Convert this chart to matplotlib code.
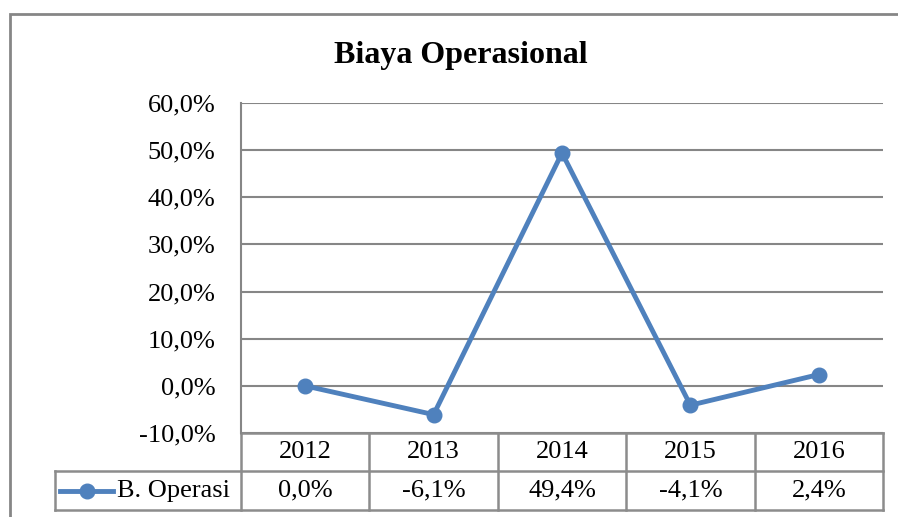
import matplotlib
matplotlib.use("Agg")
import matplotlib.pyplot as plt
from matplotlib.lines import Line2D
from matplotlib.patches import Rectangle

plt.rcParams['font.family'] = ['Liberation Serif', 'DejaVu Serif']

title = "Biaya Operasional"
years = ["2012", "2013", "2014", "2015", "2016"]
series_name = "B. Operasi"
values = [0.0, -6.1, 49.4, -4.1, 2.4]
yticks = [-10, 0, 10, 20, 30, 40, 50, 60]

blue = "#4F81BD"
grid_gray = "#868686"
fs = 19
fmt = lambda v: ("%.1f" % v).replace(".", ",") + "%"

W, H = 898, 517
fig = plt.figure(figsize=(W / 100, H / 100), dpi=100)

# plot area in pixels
left, right, top, bottom = 241, 883, 103, 433
ax = fig.add_axes([left / W, 1 - bottom / H, (right - left) / W, (bottom - top) / H])

x = list(range(len(years)))
ax.plot(x, values, '-o', color=blue, lw=3.5, ms=10.5, zorder=3, clip_on=False)
ax.set_xlim(-0.5, len(years) - 0.5)
ax.set_ylim(yticks[0], yticks[-1])
ax.set_yticks(yticks)
ax.set_yticklabels([fmt(v) for v in yticks], fontsize=fs)
ax.tick_params(axis='y', length=0, pad=18.5)
ax.set_xticks([])
for s in ['top', 'right', 'bottom']:
    ax.spines[s].set_visible(False)
ax.spines['left'].set_color(grid_gray)
ax.spines['left'].set_linewidth(1.5)
ax.yaxis.grid(True, color=grid_gray, lw=1.5)
ax.set_axisbelow(True)

fig.text(461 / W, 1 - 55 / H, title, ha='center', va='center',
         fontsize=23, fontweight='bold')

# data table below the plot, in axes coordinates
pw, ph = right - left, bottom - top
ax_x = lambda px: (px - left) / pw
ax_y = lambda py: (bottom - py) / ph
tline = dict(color="#8C8C8C", lw=1.8, transform=ax.transAxes, clip_on=False)

row1_top, row1_bot, row2_bot = 433, 471, 510
legend_left = 55
col_w = pw / len(years)

# horizontal lines
ax.add_line(Line2D([0, 1], [ax_y(row1_top)] * 2, **tline))
ax.add_line(Line2D([ax_x(legend_left), 1], [ax_y(row1_bot)] * 2, **tline))
ax.add_line(Line2D([ax_x(legend_left), 1], [ax_y(row2_bot)] * 2, **tline))
# vertical lines
for i in range(len(years) + 1):
    px = left + i * col_w
    ax.add_line(Line2D([ax_x(px)] * 2, [ax_y(row1_top), ax_y(row2_bot)], **tline))
ax.add_line(Line2D([ax_x(legend_left)] * 2, [ax_y(row1_bot), ax_y(row2_bot)], **tline))

for i, (yr, v) in enumerate(zip(years, values)):
    cx = ax_x(left + (i + 0.5) * col_w)
    ax.text(cx, ax_y((row1_top + row1_bot) / 2), yr, transform=ax.transAxes,
            ha='center', va='center', fontsize=fs)
    ax.text(cx, ax_y((row1_bot + row2_bot) / 2), fmt(v), transform=ax.transAxes,
            ha='center', va='center', fontsize=fs)

# legend key in the table
ly = ax_y((row1_bot + row2_bot) / 2)
ax.add_line(Line2D([ax_x(60), ax_x(113)], [ly, ly], color=blue, lw=3.5,
                   transform=ax.transAxes, clip_on=False))
ax.add_line(Line2D([ax_x(87)], [ly], marker='o', ms=10.5, color=blue,
                   transform=ax.transAxes, clip_on=False))
ax.text(ax_x(117), ly, series_name, transform=ax.transAxes,
        ha='left', va='center', fontsize=fs)

# chart area border (right and bottom run past the image)
fig.patches.append(Rectangle((10 / W, -0.1), 1.2, 1.1 - 14 / H,
                             transform=fig.transFigure, fill=False,
                             edgecolor=grid_gray, lw=2))

fig.savefig("out.png", dpi=100)
